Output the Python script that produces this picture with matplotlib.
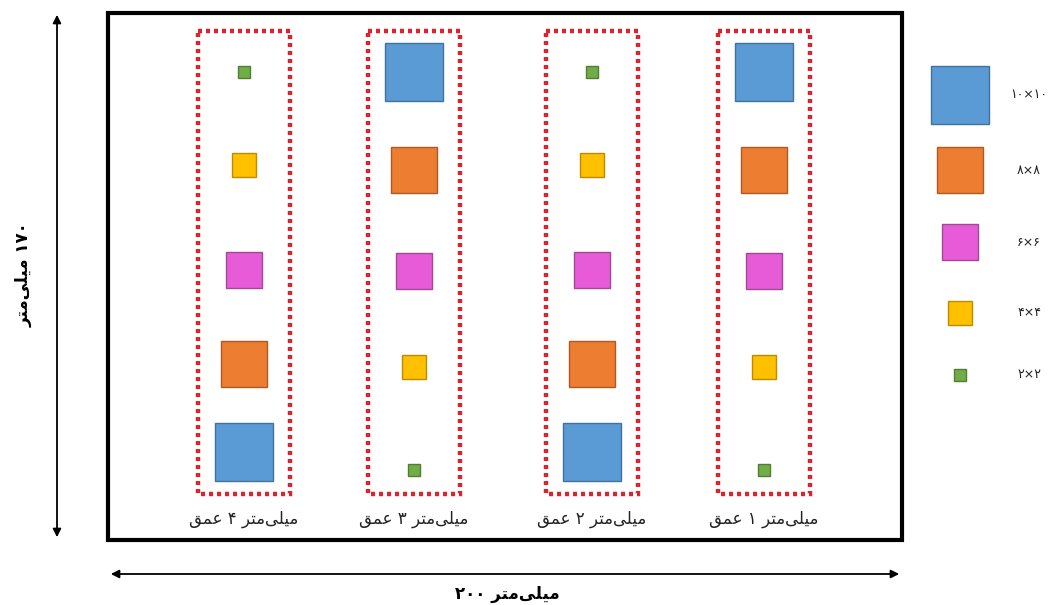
import matplotlib
matplotlib.use("Agg")
import matplotlib.pyplot as plt
from matplotlib.patches import Rectangle, FancyArrowPatch

plt.rcParams['font.family'] = ['DejaVu Sans']

# ---------------- data ----------------
depth_labels = ["عمق ۴ میلی‌متر", "عمق ۳ میلی‌متر", "عمق ۲ میلی‌متر", "عمق ۱ میلی‌متر"]
col1_sizes = [2, 4, 6, 8, 10]
col2_sizes = [10, 8, 6, 4, 2]
col3_sizes = [2, 4, 6, 8, 10]
col4_sizes = [10, 8, 6, 4, 2]
legend_sizes = [10, 8, 6, 4, 2]
legend_labels = ["۱۰×۱۰", "۸×۸", "۶×۶", "۴×۴", "۲×۲"]
x_label = "۲۰۰ میلی‌متر"
y_label = "۱۷۰ میلی‌متر"

# ---------------- simple Persian shaping ----------------
FORMS = {  # isolated, final, initial, medial
    'ع': ('\uFEC9', '\uFECA', '\uFECB', '\uFECC'),
    'م': ('\uFEE1', '\uFEE2', '\uFEE3', '\uFEE4'),
    'ق': ('\uFED5', '\uFED6', '\uFED7', '\uFED8'),
    'ی': ('\uFEEF', '\uFEF0', '\uFEF3', '\uFEF4'),
    'ل': ('\uFEDD', '\uFEDE', '\uFEDF', '\uFEE0'),
    'ت': ('\uFE95', '\uFE96', '\uFE97', '\uFE98'),
    'ر': ('\uFEAD', '\uFEAE', None, None),
}


def shape_word(w):
    out = []
    n = len(w)
    for i, c in enumerate(w):
        if c not in FORMS:
            if c != '\u200c':
                out.append(c)
            continue
        f = FORMS[c]
        prev = w[i - 1] if i > 0 else None
        nxt = w[i + 1] if i < n - 1 else None
        jp = prev in FORMS and FORMS[prev][2] is not None
        jn = f[2] is not None and nxt in FORMS
        if jp and jn:
            out.append(f[3])
        elif jp:
            out.append(f[1])
        elif jn:
            out.append(f[2])
        else:
            out.append(f[0])
    if any(ch in FORMS for ch in w):
        out = out[::-1]
    return ''.join(out)


def visual(text, rtl_order=False):
    words = [shape_word(w) for w in text.split(' ')]
    if rtl_order:
        words = words[::-1]
    return ' '.join(words)


# ---------------- layout ----------------
W, H = 1057, 605
fig = plt.figure(figsize=(W / 100, H / 100), dpi=100)
ax = fig.add_axes([0, 0, 1, 1])
ax.set_xlim(0, W)
ax.set_ylim(H, 0)
ax.axis('off')

PX = 5.85  # pixels per size unit
fill = {10: '#5B9BD5', 8: '#ED7D31', 6: '#E85BD8', 4: '#FFC000', 2: '#70AD47'}
edge = {10: '#41719C', 8: '#AE5A21', 6: '#9E4A94', 4: '#BC8C00', 2: '#507E32'}

# outer frame
ax.add_patch(Rectangle((108, 13), 794, 527, fill=False, ec='black', lw=3, zorder=3))

columns = [col1_sizes, col2_sizes, col3_sizes, col4_sizes]
col_x = [244, 414, 592, 764]
rows_up = [72, 165, 270, 364, 452]      # small at top
rows_down = [72, 170, 271, 367, 470]    # large at top

for cx, sizes, lab in zip(col_x, columns, depth_labels):
    rows = rows_up if sizes[0] < sizes[-1] else rows_down
    for s, cy in zip(sizes, rows):
        side = s * PX
        ax.add_patch(Rectangle((cx - side / 2, cy - side / 2), side, side,
                               fc=fill[s], ec=edge[s], lw=1.0, zorder=2))
    ax.add_patch(Rectangle((cx - 46, 31), 92, 463, fill=False, ec='#E0202A',
                           lw=3.2, ls=(0, (0.9, 0.9)), zorder=2))
    ax.text(cx, 519, visual(lab), ha='center', va='center', fontsize=12, color='#222222')

# legend
leg_y = [95, 170, 242, 313, 375]
for s, ly, lab in zip(legend_sizes, leg_y, legend_labels):
    side = s * PX
    ax.add_patch(Rectangle((960 - side / 2, ly - side / 2), side, side,
                           fc=fill[s], ec=edge[s], lw=1.0, zorder=2))
    ax.text(1029, ly, lab, ha='center', va='center', fontsize=9, color='#222222')

# arrows
ax.add_patch(FancyArrowPatch((57, 12), (57, 540), arrowstyle='<|-|>', mutation_scale=12,
                             color='black', lw=1.3))
ax.add_patch(FancyArrowPatch((108, 574), (902, 574), arrowstyle='<|-|>', mutation_scale=12,
                             color='black', lw=1.3))

ax.text(507, 594, visual(x_label), ha='center', va='center', fontsize=12,
        fontweight='bold', color='black')
ax.text(24, 275, visual(y_label, rtl_order=True), ha='center', va='center', fontsize=12,
        fontweight='bold', rotation=90, color='black')

fig.savefig('out.png', dpi=100)
